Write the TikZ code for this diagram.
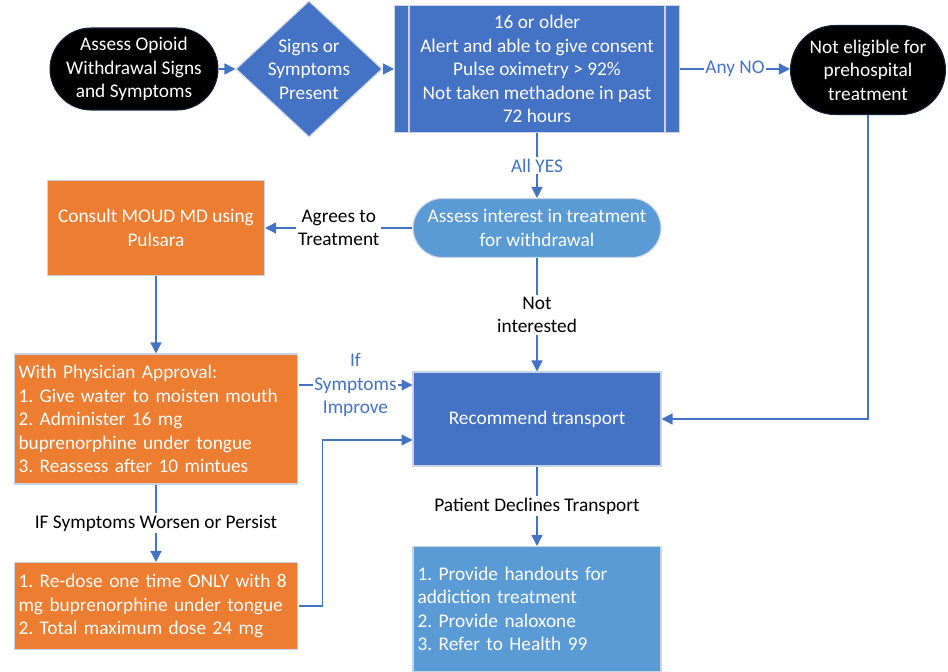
\documentclass[tikz,border=0pt]{standalone}
\usepackage{fontspec}
\setmainfont{Carlito}
\usetikzlibrary{shapes.geometric, arrows.meta}
\definecolor{msblue}{HTML}{4472C4}
\definecolor{mslight}{HTML}{5B9BD5}
\definecolor{msorange}{HTML}{ED7D31}
\definecolor{msedge}{HTML}{C9D3E6}
\frenchspacing
\begin{document}
\begin{tikzpicture}[x=0.02cm, y=-0.02cm, font=\fontsize{11}{13.4}\selectfont,
  box/.style={draw=msedge, line width=0.6pt, text=white, align=center},
  term/.style={box, fill=black, draw=black!70!msblue, rounded corners=#1},
  flow/.style={-{Triangle[length=2.2mm, width=2.2mm]}, msblue, line width=0.75pt},
  lbl/.style={fill=white, inner sep=1pt, align=center, text=black},
  bluelbl/.style={lbl, text=msblue}]
\useasboundingbox (0,0) rectangle (948,672);
\node[term=0.82cm, minimum width=3.36cm, minimum height=1.64cm] (assess) at (134,69) {Assess Opioid\\Withdrawal Signs\\and Symptoms};
\node[box, diamond, fill=msblue, minimum width=2.92cm, minimum height=2.62cm, inner sep=-1pt] (signs) at (309,69) {Signs or\\Symptoms\\Present};
\node[box, fill=msblue, minimum width=5.7cm, minimum height=2.54cm] (criteria) at (537,69) {16 or older\\Alert and able to give consent\\Pulse oximetry > 92\%\\Not taken methadone in past\\72 hours};
\draw[msedge, line width=0.6pt] ([xshift=0.3cm]criteria.north west) -- ([xshift=0.3cm]criteria.south west);
\draw[msedge, line width=0.6pt] ([xshift=-0.3cm]criteria.north east) -- ([xshift=-0.3cm]criteria.south east);
\node[term=0.89cm, minimum width=3.1cm, minimum height=1.78cm] (noelig) at (868,70) {Not eligible for\\prehospital\\treatment};
\node[box, fill=mslight, rounded corners=0.59cm, minimum width=4.96cm, minimum height=1.18cm] (interest) at (537,228) {Assess interest in treatment\\for withdrawal};
\node[box, fill=msorange, minimum width=4.34cm, minimum height=1.9cm] (consult) at (156,228) {Consult MOUD MD using\\Pulsara};
\node[box, fill=msorange, minimum width=5.68cm, minimum height=2.6cm, text width=5.5cm, inner xsep=0.09cm, align=left] (approval) at (156,419) {With Physician Approval:\\1. Give water to moisten mouth\\2. Administer 16 mg\\buprenorphine under tongue\\3. Reassess after 10 mintues};
\node[box, fill=msblue, minimum width=4.96cm, minimum height=1.88cm] (transport) at (537,419) {Recommend transport};
\node[box, fill=msorange, minimum width=5.68cm, minimum height=1.74cm, text width=5.5cm, inner xsep=0.09cm, align=left] (redose) at (156,606) {1. Re-dose one time ONLY with 8\\mg buprenorphine under tongue\\2. Total maximum dose 24 mg};
\node[box, fill=mslight, minimum width=4.96cm, minimum height=2.5cm, text width=4.78cm, inner xsep=0.09cm, align=left] (handouts) at (537,609) {1. Provide handouts for\\addiction treatment\\2. Provide naloxone\\3. Refer to Health 99};
\draw[flow] (assess) -- (signs);
\draw[flow] (signs) -- (criteria);
\draw[flow] (criteria.east) -- node[bluelbl] {Any NO} (criteria.east -| noelig.west);
\draw[flow] (criteria) -- node[bluelbl] {All YES} (interest);
\draw[flow] (interest) -- node[lbl] {Agrees to\\Treatment} (consult);
\draw[flow] (consult) -- (approval);
\draw[flow] (interest) -- node[lbl] {Not\\interested} (transport);
\draw[flow] (noelig) |- (transport);
\draw[flow] ([yshift=0.68cm]approval.east) -- node[bluelbl] {If\\Symptoms\\Improve} ([yshift=0.68cm]transport.west);
\draw[flow] (approval) -- node[lbl] {IF Symptoms Worsen or Persist} (redose);
\draw[flow] (redose.east) -- ++(24,0) |- ([yshift=-0.42cm]transport.west);
\draw[flow] (transport) -- node[lbl] {Patient Declines Transport} (handouts);
\end{tikzpicture}
\end{document}
